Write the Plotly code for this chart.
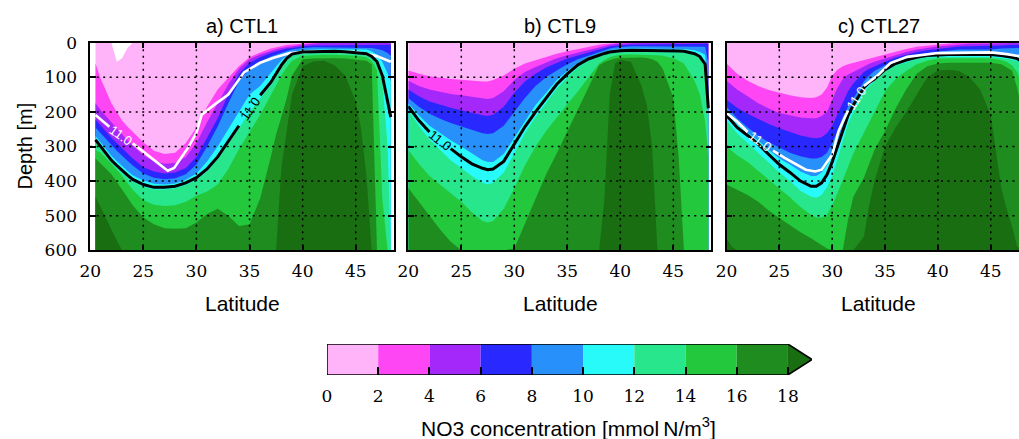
import plotly.graph_objects as go

W, H = 1019, 439
DEPTH_MAX = 600

# ---------------- data ----------------
LEVELS = [0, 2, 4, 6, 8, 10, 12, 14, 16, 18]
BAND_COLORS = ["#ffb4fa", "#ff46f5", "#a428fa", "#2828ff", "#2890fa",
               "#28fafa", "#28e68c", "#23c83c", "#1e8c1e", "#1a6e12"]
CB_TICKS = [0, 2, 4, 6, 8, 10, 12, 14, 16, 18]
XTICKS = [20, 25, 30, 35, 40, 45]
YTICKS = [0, 100, 200, 300, 400, 500, 600]
PANEL_TITLES = ["a) CTL1", "b) CTL9", "c) CTL27"]
LINE_LABEL = "11.0"

# Panel a (CTL1): depth [m] of each NO3 isoline (0,2,...,18) per latitude
LAT_A = [20.5, 21, 22, 22.5, 23, 23.5, 24, 25, 26, 27, 28, 29, 30, 31, 32, 33, 34, 35, 36, 37,
         37.5, 38, 38.5, 39, 40, 41, 42, 43, 44, 45, 45.5, 46, 46.5, 47, 47.5, 48, 48.3]
A_D0 = [0, 0, 0, 55, 45, 15, 0, 0, 0, 0, 0, 0, 0, 0, 0, 0, 0, 0, 0, 0,
        0, 0, 0, 0, 0, 0, 0, 0, 0, 0, 0, 0, 0, 0, 0, 0, 0]
A_D2 = [60, 105, 175, 200, 225, 242, 258, 288, 312, 322, 318, 290, 245, 185, 135, 102, 68, 42, 28, 17,
        13, 9, 7, 5, 2, 0, 0, 0, 0, 0, 0, 0, 0, 0, 0, 0, 0]
A_D4 = [175, 195, 230, 248, 265, 282, 297, 325, 342, 350, 348, 330, 290, 230, 175, 120, 75, 48, 34, 23,
        19, 15, 12, 10, 6, 3, 0, 0, 0, 0, 0, 0, 0, 0, 0, 0, 0]
A_D6 = [222, 240, 275, 290, 305, 320, 335, 360, 372, 378, 375, 362, 330, 275, 218, 150, 90, 58, 42, 30,
        25, 20, 17, 15, 10, 8, 8, 8, 8, 8, 7, 6, 6, 6, 6, 6, 6]
A_D8 = [245, 262, 298, 312, 327, 341, 355, 378, 390, 395, 392, 380, 352, 300, 242, 175, 112, 75, 55, 40,
        34, 28, 24, 20, 15, 13, 13, 13, 13, 13, 13, 13, 15, 18, 22, 30, 38]
A_D10 = [270, 290, 327, 342, 357, 370, 383, 398, 408, 410, 407, 396, 378, 343, 300, 250, 200, 150, 125, 88,
         68, 50, 38, 28, 21, 19, 19, 19, 19, 19, 19, 20, 25, 35, 55, 90, 110]
A_D11 = [281, 300, 340, 355, 370, 383, 395, 410, 418, 418, 415, 405, 390, 365, 330, 285, 240, 192, 152, 115,
         90, 65, 45, 33, 27, 26, 25, 25, 26, 28, 30, 32, 40, 55, 95, 170, 215]
A_D12 = [288, 307, 347, 362, 377, 390, 402, 416, 424, 424, 421, 411, 397, 372, 337, 293, 248, 200, 160, 122,
         96, 70, 50, 37, 31, 30, 29, 29, 30, 32, 34, 36, 45, 62, 110, 300, 600]
A_D14 = [310, 318, 350, 367, 385, 405, 425, 455, 468, 472, 470, 460, 442, 430, 410, 365, 308, 258, 208, 152,
         122, 95, 72, 52, 38, 36, 35, 35, 36, 38, 40, 42, 52, 80, 450, 600, 600]
A_D16 = [335, 350, 380, 402, 425, 448, 470, 505, 525, 536, 538, 536, 520, 495, 480, 500, 530, 525, 450, 330,
         265, 215, 160, 95, 48, 46, 45, 45, 46, 48, 50, 52, 62, 600, 600, 600, 600]
A_D18 = [445, 478, 540, 572, 600, 600, 600, 600, 600, 600, 600, 600, 600, 600, 600, 600, 600, 600, 600, 600,
         600, 360, 250, 150, 68, 54, 52, 65, 95, 170, 250, 380, 600, 600, 600, 600, 600]
# white 11.0 isoline (reference field) in panel a
WA_LAT = [20.5, 21.8, 24, 25.6, 27.3, 27.9, 29.2, 30.0, 30.5, 31.7, 33, 34.5, 36, 37.2, 38.8, 41, 45, 46.9, 48.3]
WA_DEP = [209, 243, 291, 329, 370, 362, 304, 260, 208, 179, 150, 85, 58, 44, 30, 25, 27, 38, 55]

# Panel b (CTL9)
LAT_B = [20, 21, 22, 23, 24, 25, 26, 27, 27.5, 28, 29, 30, 31, 32, 33, 34, 35, 36, 37, 38,
         38.5, 39, 39.5, 40, 41, 42, 42.5, 43, 43.5, 44, 45, 45.5, 46, 47, 47.5, 48, 48.3]
B_D0 = [0, 0, 0, 0, 0, 0, 0, 0, 0, 0, 0, 0, 0, 0, 0, 0, 0, 0, 0, 0,
        0, 0, 0, 0, 0, 0, 0, 0, 0, 0, 0, 0, 0, 0, 0, 0, 0]
B_D2 = [80, 90, 97, 102, 105, 107, 110, 112, 112, 108, 95, 75, 60, 50, 40, 32, 25, 18, 12, 6,
        4, 2, 1, 0, 0, 0, 0, 0, 0, 0, 0, 0, 0, 0, 0, 0, 0]
B_D4 = [110, 125, 135, 142, 148, 152, 157, 162, 163, 160, 140, 108, 85, 70, 57, 45, 36, 28, 20, 12,
        9, 6, 4, 3, 0, 0, 0, 0, 0, 0, 0, 0, 0, 0, 0, 0, 0]
B_D6 = [135, 155, 170, 180, 188, 195, 203, 210, 212, 208, 185, 145, 112, 90, 72, 58, 46, 37, 28, 18,
        14, 11, 9, 7, 5, 5, 5, 5, 5, 5, 5, 5, 4, 3, 3, 3, 3]
B_D8 = [160, 185, 205, 220, 232, 242, 252, 262, 264, 262, 240, 200, 160, 125, 100, 80, 62, 48, 37, 27,
        22, 17, 14, 12, 10, 10, 10, 10, 10, 10, 10, 10, 10, 10, 11, 12, 60]
B_D10 = [175, 210, 240, 262, 282, 300, 320, 340, 345, 345, 322, 275, 225, 180, 145, 108, 82, 58, 42, 31,
         26, 22, 20, 18, 17, 17, 17, 17, 17, 17, 17, 17, 18, 22, 27, 35, 150]
B_D11 = [184, 225, 258, 282, 306, 330, 350, 363, 367, 365, 343, 295, 243, 200, 160, 120, 90, 64, 47, 35,
         31, 27, 25, 23, 22, 22, 22, 22, 22, 22, 23, 24, 25, 32, 40, 62, 190]
B_D12 = [195, 240, 280, 310, 340, 362, 385, 405, 410, 405, 375, 320, 262, 215, 175, 133, 100, 72, 53, 40,
         35, 31, 29, 27, 26, 26, 26, 26, 26, 26, 27, 28, 30, 37, 45, 70, 205]
B_D14 = [310, 350, 385, 410, 435, 460, 490, 515, 520, 515, 480, 420, 355, 300, 255, 215, 178, 140, 100, 60,
         50, 42, 38, 35, 34, 34, 34, 35, 36, 38, 45, 52, 60, 110, 150, 230, 330]
B_D16 = [420, 460, 500, 540, 575, 600, 600, 600, 600, 600, 600, 595, 525, 450, 380, 320, 255, 190, 125, 65,
         56, 50, 46, 44, 43, 43, 44, 48, 55, 75, 160, 330, 600, 600, 600, 600, 600]
B_D18 = [600, 600, 600, 600, 600, 600, 600, 600, 600, 600, 600, 600, 600, 600, 600, 600, 600, 600, 600, 600,
         450, 150, 60, 50, 55, 125, 180, 300, 600, 600, 600, 600, 600, 600, 600, 600, 600]

# Panel c (CTL27)
LAT_C = [20, 20.5, 21, 22, 23, 24, 25, 26, 27, 28, 28.5, 29, 29.5, 30, 30.5, 31, 31.5, 32, 33, 33.5,
         34, 35, 36, 37, 38, 39, 40, 41, 42, 43, 44, 45, 46, 46.5, 47, 47.5, 48.3]
C_D0 = [0, 0, 0, 0, 0, 0, 0, 0, 0, 0, 0, 0, 0, 0, 0, 0, 0, 0, 0, 0,
        0, 0, 0, 0, 0, 0, 0, 0, 0, 0, 0, 0, 0, 0, 0, 0, 0]
C_D2 = [60, 75, 90, 110, 125, 137, 145, 152, 158, 160, 158, 150, 130, 95, 78, 68, 62, 58, 50, 45,
        40, 32, 25, 18, 12, 8, 5, 2, 0, 0, 0, 0, 0, 0, 0, 0, 0]
C_D4 = [110, 123, 135, 155, 175, 190, 203, 210, 216, 218, 218, 212, 200, 165, 130, 105, 92, 85, 68, 61,
        55, 45, 35, 27, 20, 15, 11, 8, 5, 3, 3, 3, 2, 2, 1, 0, 0]
C_D6 = [165, 177, 188, 205, 220, 235, 247, 258, 268, 275, 276, 273, 262, 240, 205, 170, 140, 118, 85, 75,
        68, 55, 43, 35, 27, 22, 18, 14, 11, 10, 10, 10, 8, 7, 6, 5, 5]
C_D8 = [185, 202, 218, 245, 268, 288, 304, 318, 328, 335, 335, 330, 318, 290, 255, 215, 185, 160, 112, 95,
        82, 65, 51, 42, 35, 30, 26, 22, 20, 20, 20, 20, 17, 16, 15, 15, 18]
C_D10 = [200, 218, 235, 260, 283, 310, 335, 352, 372, 385, 385, 375, 355, 325, 283, 238, 200, 172, 122, 108,
         98, 73, 56, 46, 39, 34, 31, 29, 29, 29, 29, 29, 31, 32, 34, 38, 45]
C_D11 = [210, 228, 245, 268, 293, 323, 352, 375, 400, 415, 415, 405, 382, 345, 300, 250, 210, 180, 130, 115,
         105, 78, 60, 50, 42, 37, 35, 34, 34, 34, 34, 34, 37, 39, 42, 46, 60]
C_D12 = [225, 243, 262, 290, 318, 348, 375, 400, 428, 445, 448, 440, 418, 385, 335, 280, 235, 200, 145, 125,
         112, 84, 66, 56, 48, 43, 41, 41, 41, 41, 41, 41, 44, 46, 49, 53, 70]
C_D14 = [300, 312, 325, 345, 370, 395, 420, 447, 475, 497, 505, 505, 498, 470, 435, 395, 355, 320, 260, 230,
         200, 140, 105, 82, 62, 52, 46, 45, 45, 45, 45, 45, 50, 55, 65, 85, 150]
C_D16 = [410, 418, 425, 440, 460, 485, 507, 528, 548, 565, 575, 585, 595, 600, 600, 600, 510, 445, 390, 350,
         310, 255, 190, 135, 90, 68, 60, 58, 58, 58, 58, 58, 62, 70, 80, 130, 250]
C_D18 = [565, 590, 600, 600, 600, 600, 600, 600, 600, 600, 600, 600, 600, 600, 600, 600, 600, 600, 560, 470,
         400, 300, 245, 200, 150, 100, 80, 78, 82, 100, 135, 210, 420, 480, 530, 590, 600]
WC_LAT = [20, 21, 22, 24.4, 25.5, 27.5, 28.4, 29, 30, 30.6, 31.5, 33.0, 34.4, 35.5, 37.1, 40, 45, 46.5, 48.3]
WC_DEP = [203, 228, 258, 312, 333, 367, 372, 367, 324, 256, 196, 125, 92, 59, 41, 30, 28, 33, 42]

ISO_A = [A_D0, A_D2, A_D4, A_D6, A_D8, A_D10, A_D12, A_D14, A_D16, A_D18]
ISO_B = [B_D0, B_D2, B_D4, B_D6, B_D8, B_D10, B_D12, B_D14, B_D16, B_D18]
ISO_C = [C_D0, C_D2, C_D4, C_D6, C_D8, C_D10, C_D12, C_D14, C_D16, C_D18]
for lat, iso, d11 in ((LAT_A, ISO_A, A_D11), (LAT_B, ISO_B, B_D11), (LAT_C, ISO_C, C_D11)):
    assert len(d11) == len(lat)
    for d in iso:
        assert len(d) == len(lat), (len(d), len(lat))
assert len(WA_LAT) == len(WA_DEP) and len(WC_LAT) == len(WC_DEP)

# ---------------- layout helpers (pixels -> paper) ----------------
def px(x):
    return x / W


def py(y):
    return 1 - y / H


PANEL_PX = [(90.2, 394.0, 48.6), (408.3, 711.3, 48.58), (726.5, W, 20 + (W - 726.5) / 10.57)]
TOP_PX, BOT_PX = 42.7, 250.3

fig = go.Figure()


def add_bands(lat, iso, xa, ya):
    for k, d in enumerate(iso):
        xs = list(lat) + [lat[-1], lat[0]]
        ys = list(d) + [DEPTH_MAX, DEPTH_MAX]
        fig.add_trace(go.Scatter(x=xs, y=ys, mode="lines", fill="toself",
                                 fillcolor=BAND_COLORS[k], line=dict(width=0, color=BAND_COLORS[k]),
                                 xaxis=xa, yaxis=ya, hoverinfo="skip", showlegend=False))


def with_gaps(lat, dep, gaps):
    xs, ys, prev = [], [], None
    for x, y in zip(lat, dep):
        if any(lo < x < hi for lo, hi in gaps):
            continue
        if prev is not None and any(prev <= lo and x >= hi for lo, hi in gaps):
            xs.append(None)
            ys.append(None)
        xs.append(x)
        ys.append(y)
        prev = x
    return xs, ys


def add_line(lat, dep, color, width, gaps, xa, ya):
    xs, ys = with_gaps(lat, dep, gaps)
    fig.add_trace(go.Scatter(x=xs, y=ys, mode="lines", line=dict(color=color, width=width),
                             connectgaps=False, xaxis=xa, yaxis=ya, hoverinfo="skip", showlegend=False))


# panel a
add_bands(LAT_A, ISO_A, "x", "y")
add_line(WA_LAT, WA_DEP, "white", 2.6, [(21.8, 24)], "x", "y")
add_line(LAT_A, A_D11, "black", 3, [(34, 36)], "x", "y")
# panel b
add_bands(LAT_B, ISO_B, "x2", "y2")
add_line(LAT_B, B_D11, "black", 3, [(22, 24)], "x2", "y2")
# panel c
add_bands(LAT_C, ISO_C, "x3", "y3")
add_line(LAT_C, C_D11, "black", 3, [], "x3", "y3")
add_line(WC_LAT, WC_DEP, "white", 2.6, [(22, 24.4), (31.5, 33.0)], "x3", "y3")

# contour labels
LABELS = [("x", "y", 22.9, 267, 35, "white"),
          ("x", "y", 35.0, 192, -55, "black"),
          ("x2", "y2", 23.0, 282, 38, "black"),
          ("x3", "y3", 23.2, 285, 35, "white"),
          ("x3", "y3", 32.25, 160, -57, "white")]
annotations = []
for xa, ya, lx, ly, ang, col in LABELS:
    annotations.append(dict(xref=xa, yref=ya, x=lx, y=ly, text=LINE_LABEL, showarrow=False,
                            textangle=ang, font=dict(family="Liberation Sans", size=13, color=col)))

# colorbar (own axes)
fig.add_trace(go.Bar(x=[LEVELS[i + 1] - LEVELS[i] for i in range(len(LEVELS) - 1)],
                     base=LEVELS[:-1], y=[0.5] * (len(LEVELS) - 1), orientation="h", width=1,
                     marker=dict(color=BAND_COLORS[:-1], line=dict(width=0)),
                     xaxis="x4", yaxis="y4", hoverinfo="skip", showlegend=False))
TIP = 18.94
fig.add_trace(go.Scatter(x=[18, TIP, 18, 18], y=[0, 0.5, 1, 0], mode="lines", fill="toself",
                         fillcolor=BAND_COLORS[-1], line=dict(width=0, color=BAND_COLORS[-1]),
                         xaxis="x4", yaxis="y4", hoverinfo="skip", showlegend=False))
fig.add_trace(go.Scatter(x=[0, 18, TIP, 18, 0, 0], y=[0, 0, 0.5, 1, 1, 0], mode="lines",
                         line=dict(color="black", width=1.5),
                         xaxis="x4", yaxis="y4", hoverinfo="skip", showlegend=False))

SERIF = dict(family="DejaVu Serif", size=17, color="black")
SANS = "Liberation Sans"

base_axis = dict(showline=True, linecolor="black", linewidth=1.5, ticks="inside", ticklen=6,
                 tickwidth=1.5, tickcolor="black", showgrid=False, zeroline=False,
                 tickfont=SERIF, layer="above traces", fixedrange=True, automargin=False)

layout = dict(width=W, height=H, margin=dict(l=0, r=0, t=0, b=0, pad=0, autoexpand=False),
              autosize=False, paper_bgcolor="white", plot_bgcolor="white", showlegend=False)

GRID_LINE = dict(color="black", width=1.5, dash="2px,4.5px")
shapes = []
for i, (x0, x1, xmax) in enumerate(PANEL_PX):
    sfx = "" if i == 0 else str(i + 1)
    xa = dict(base_axis, domain=[px(x0), px(x1)], range=[20, xmax], anchor="y" + sfx,
              tickvals=XTICKS, mirror="ticks", ticklabelstandoff=5)
    ya = dict(base_axis, domain=[py(BOT_PX), py(TOP_PX)], range=[DEPTH_MAX, 0], anchor="x" + sfx,
              tickvals=YTICKS, mirror=("ticks" if i < 2 else False), showticklabels=(i == 0),
              ticklabelstandoff=8)
    layout["xaxis" + sfx] = xa
    layout["yaxis" + sfx] = ya
    # dotted grid on top of the filled bands
    for xv in XTICKS[1:]:
        shapes.append(dict(type="line", xref="x" + sfx, yref="y" + sfx, x0=xv, x1=xv, y0=0, y1=DEPTH_MAX,
                           line=GRID_LINE, layer="above"))
    for yv in YTICKS[1:-1]:
        shapes.append(dict(type="line", xref="x" + sfx, yref="y" + sfx, x0=20, x1=xmax, y0=yv, y1=yv,
                           line=GRID_LINE, layer="above"))
    cx = (x0 + (x0 + 304.0)) / 2
    annotations.append(dict(xref="paper", yref="paper", x=px(cx), y=py(26), text=PANEL_TITLES[i],
                            showarrow=False, xanchor="center", yanchor="middle",
                            font=dict(family=SANS, size=20, color="black")))
    annotations.append(dict(xref="paper", yref="paper", x=px(cx), y=py(303), text="Latitude",
                            showarrow=False, xanchor="center", yanchor="middle",
                            font=dict(family=SANS, size=21, color="black")))

annotations.append(dict(xref="paper", yref="paper", x=px(24), y=py(146.5), text="Depth [m]",
                        textangle=-90, showarrow=False, xanchor="center", yanchor="middle",
                        font=dict(family=SANS, size=20, color="black")))

layout["xaxis4"] = dict(domain=[px(327), px(812)], range=[0, TIP], anchor="y4", showline=False,
                        ticks="inside", ticklen=8, tickwidth=1.5, tickcolor="black",
                        tickvals=CB_TICKS, ticktext=[str(v) for v in CB_TICKS], tickfont=SERIF,
                        showgrid=False, zeroline=False, layer="above traces", fixedrange=True,
                        ticklabelstandoff=9, automargin=False)
layout["yaxis4"] = dict(domain=[py(375), py(344)], range=[0, 1], anchor="x4", visible=False,
                        fixedrange=True, automargin=False)
annotations.append(dict(xref="paper", yref="paper", x=px(568), y=py(427),
                        text="NO3 concentration [mmol\u2009N/m<sup>3</sup>]", showarrow=False,
                        xanchor="center", yanchor="middle",
                        font=dict(family=SANS, size=21, color="black")))

layout["shapes"] = shapes
layout["annotations"] = annotations
fig.update_layout(**layout)
fig.write_html("out.html", config={"displayModeBar": False},
               post_script="document.body.style.margin='0';document.body.style.padding='0';"
                           "document.body.style.overflow='hidden';")
